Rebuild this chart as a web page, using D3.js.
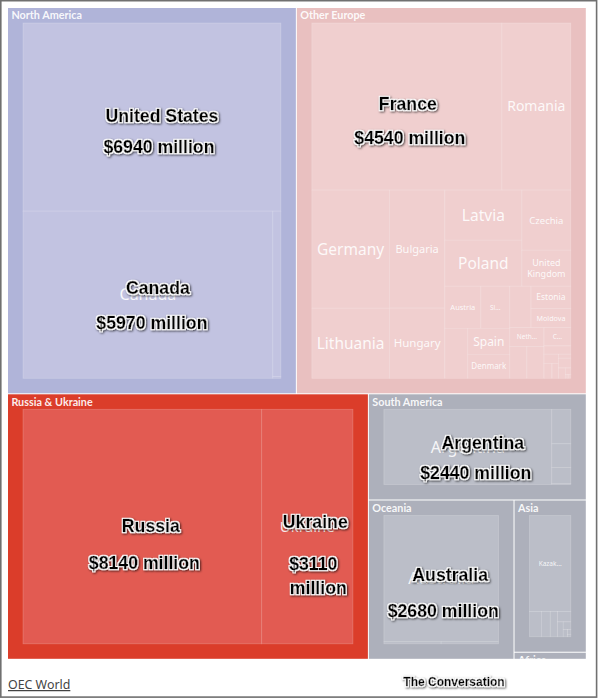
<!DOCTYPE html>
<html><head><meta charset="utf-8">
<style>html,body{margin:0;padding:0;background:#fff}svg{display:block}</style>
<script src="https://cdn.jsdelivr.net/npm/d3@7"></script></head>
<body><svg id="c" width="598" height="699"></svg>
<script>
// ---- data: export value in US$ million
const northAmericaNames = ["United States","Canada","Mexico","Bahamas"];
const northAmericaValues = [6940,5970,190,2];
const otherEuropeNames = ["France","Romania","Germany","Lithuania","Bulgaria","Hungary","Latvia","Poland","Czechia","United Kingdom","Austria","Slovakia","Serbia","Spain","Denmark","Belgium","Estonia","Moldova","Netherlands","Sweden","Finland","Croatia","Greece","Italy","Slovenia","Ireland","Norway","Portugal","Switzerland","Albania","Bosnia","Cyprus","Malta"];
const otherEuropeValues = [4540,1648,1308,776,936,556,551,507,420,252,216,174,164,156,144,126,126,109,92,78,78,70,32,19,17,14,7,17,10,5,1,1,1];
const russiaUkraineNames = ["Russia","Ukraine"];
const russiaUkraineValues = [8140,3110];
const southAmericaNames = ["Argentina","Brazil","Uruguay","Paraguay","Chile"];
const southAmericaValues = [2440,127,88,58,4];
const oceaniaNames = ["Australia","New Zealand","Fiji"];
const oceaniaValues = [2680,22,22];
const asiaNames = ["Kazakhstan","India","China","Pakistan","Turkey","Uzbekistan","Japan","Syria","Iran","Israel"];
const asiaValues = [1024,77,58,47,35,22,15,8,4,2];
const africaNames = ["Egypt"];
const africaValues = [60];

// displayed labels and their type size
const cellLabels = {"Canada":"Canada","Romania":"Romania","Germany":"Germany","Lithuania":"Lithuania","Bulgaria":"Bulgaria","Hungary":"Hungary","Latvia":"Latvia","Poland":"Poland","Czechia":"Czechia","United Kingdom":"United Kingdom","Austria":"Austria","Slovakia":"Sl...","Spain":"Spain","Denmark":"Denmark","Estonia":"Estonia","Moldova":"Moldova","Netherlands":"Neth...","Croatia":"C...","Ukraine":"Ukraine","Argentina":"Argentina","Australia":"Australia","Kazakhstan":"Kazak..."};
const cellFont = {"Canada":16,"Romania":14,"Germany":15.5,"Lithuania":15.5,"Bulgaria":11,"Hungary":11.5,"Latvia":15.5,"Poland":15.5,"Czechia":9.5,"United Kingdom":9,"Austria":7.5,"Slovakia":6.5,"Spain":12,"Denmark":8,"Estonia":8.5,"Moldova":7.2,"Netherlands":6.5,"Croatia":6.5,"Ukraine":15,"Argentina":16,"Australia":16,"Kazakhstan":6.5};

// which cells share a strip; "h" strips run across, "v" strips run down
const europeTiny = ["v","Norway","Portugal",["h","Switzerland",["v","Albania",["h","Bosnia","Cyprus","Malta"]]]];
const europeTail = ["v","Croatia","Greece",["h",["v","Italy",["h","Slovenia","Ireland"]],europeTiny]];
const europeRight = ["v",["h","Belgium",["v","Estonia","Moldova"]],["h",["v","Netherlands",["h","Sweden","Finland"]],europeTail]];
const europeLeft = ["v",["h","Austria","Slovakia"],["h","Serbia",["v","Spain","Denmark"]]];
const europeMid = ["v",["h",["v","Latvia","Poland"],["v","Czechia","United Kingdom"]],["h",europeLeft,europeRight]];
const nest = {
 "North America":["v","United States",["h","Canada",["v","Mexico","Bahamas"]]],
 "Other Europe":["v",["h","France","Romania"],["h",["v","Germany","Lithuania"],["v","Bulgaria","Hungary"],europeMid]],
 "Russia & Ukraine":["h","Russia","Ukraine"],
 "South America":["h","Argentina",["v","Brazil","Uruguay","Paraguay","Chile"]],
 "Oceania":["v","Australia",["h","New Zealand","Fiji"]],
 "Asia":["v","Kazakhstan",["h","India","China","Pakistan",["v","Turkey",["h","Uzbekistan",["v","Japan",["h","Syria",["v","Iran","Israel"]]]]]]],
 "Africa":["v","Egypt"]
};
const topNest = ["v",["h","North America","Other Europe"],
  ["h","Russia & Ukraine",["v","South America",["h","Oceania",["v","Asia","Africa"]]]]];
const groupSource = {"North America":[northAmericaNames,northAmericaValues],"Other Europe":[otherEuropeNames,otherEuropeValues],"Russia & Ukraine":[russiaUkraineNames,russiaUkraineValues],"South America":[southAmericaNames,southAmericaValues],"Oceania":[oceaniaNames,oceaniaValues],"Asia":[asiaNames,asiaValues],"Africa":[africaNames,africaValues]};
const groupFill = {"North America":"#b0b4d9","Other Europe":"#e9c0c0","Russia & Ukraine":"#db3d2a","South America":"#adb0bb","Oceania":"#adb0bb","Asia":"#adb0bb","Africa":"#adb0bb"};
const leafFill = {"North America":"#c2c3e1","Other Europe":"#f0cfcf","Russia & Ukraine":"#e25b52","South America":"#bbbec8","Oceania":"#bbbec8","Asia":"#bbbec8","Africa":"#bbbec8"};

// overlaid callouts
const calloutNames = ["United States","Canada","France","Russia","Ukraine","Argentina","Australia"];
const calloutValues = [6940,5970,4540,8140,3110,2440,2680];
const calloutWrap = ["Ukraine"];

// ---- build hierarchy
function buildInner(spec, lookup){
  if (typeof spec === "string") return {name:spec, value:lookup.get(spec), kind:"leaf"};
  return {dir:spec[0], kind:"strip", children:spec.slice(1).map(s=>buildInner(s,lookup))};
}
function buildTop(spec){
  if (typeof spec === "string"){
    const [n,v] = groupSource[spec];
    const lookup = new Map(n.map((k,i)=>[k,v[i]]));
    const g = buildInner(nest[spec], lookup);
    g.kind = "group"; g.name = spec;
    return g;
  }
  return {dir:spec[0], kind:"top", children:spec.slice(1).map(buildTop)};
}
const W = 598, H = 699, frame = {l:8, t:8, r:585.8, b:658.8};
const root = d3.hierarchy(buildTop(topNest)).sum(d=>d.children?0:d.value);
// d3.treemapDice lays out across x; d3.treemapSlice down y
const tileFn = (node,x0,y0,x1,y1)=> (node.data.dir==="h"?d3.treemapDice:d3.treemapSlice)(node,x0,y0,x1,y1);
d3.treemap().size([frame.r-frame.l, frame.b-frame.t]).tile(tileFn)
  .paddingInner(d=>d.data.kind==="top"?1:0)
  .paddingOuter(d=>d.data.kind==="group"?15:0)(root);

const svg = d3.select("#c");
svg.append("rect").attr("width",W).attr("height",H).attr("fill","#fff");
const defs = svg.append("defs");
// white halo grown from the glyphs, with a soft drop shadow behind it
const halo = defs.append("filter").attr("id","halo").attr("x","-15%").attr("y","-50%").attr("width","130%").attr("height","200%");
halo.append("feMorphology").attr("in","SourceAlpha").attr("operator","dilate").attr("radius",1.1).attr("result","fat");
halo.append("feGaussianBlur").attr("in","fat").attr("stdDeviation",0.35).attr("result","fatSoft");
halo.append("feFlood").attr("flood-color","#fff").attr("result","w");
halo.append("feComposite").attr("in","w").attr("in2","fatSoft").attr("operator","in").attr("result","white");
halo.append("feGaussianBlur").attr("in","fat").attr("stdDeviation",0.9).attr("result","blur");
halo.append("feOffset").attr("in","blur").attr("dx",0.8).attr("dy",1.2).attr("result","off");
halo.append("feFlood").attr("flood-color","#000").attr("flood-opacity",0.7).attr("result","k");
halo.append("feComposite").attr("in","k").attr("in2","off").attr("operator","in").attr("result","shadow");
const mg = halo.append("feMerge");
["shadow","white","SourceGraphic"].forEach(n=>mg.append("feMergeNode").attr("in",n));

const plot = svg.append("g").attr("transform",`translate(${frame.l},${frame.t})`);
const groups = root.descendants().filter(d=>d.data.kind==="group");
groups.forEach((g,i)=>{
  const gg = plot.append("g");
  gg.append("clipPath").attr("id","cl"+i).append("rect").attr("x",g.x0).attr("y",g.y0).attr("width",g.x1-g.x0).attr("height",g.y1-g.y0);
  gg.append("rect").attr("x",g.x0).attr("y",g.y0).attr("width",g.x1-g.x0).attr("height",g.y1-g.y0).attr("fill",groupFill[g.data.name]);
  const leaves = g.leaves().filter(d=>d.x1-d.x0>0.01 && d.y1-d.y0>0.01);
  gg.selectAll("rect.leaf").data(leaves).join("rect").attr("class","leaf")
    .attr("x",d=>d.x0).attr("y",d=>d.y0).attr("width",d=>d.x1-d.x0).attr("height",d=>d.y1-d.y0)
    .attr("fill",leafFill[g.data.name]).attr("stroke","#fff").attr("stroke-opacity",0.22).attr("stroke-width",0.8);
  gg.selectAll("text.cell").data(leaves.filter(d=>cellLabels[d.data.name])).join("text").attr("class","cell")
    .attr("transform",d=>`translate(${(d.x0+d.x1)/2},${(d.y0+d.y1)/2})`)
    .attr("text-anchor","middle").attr("fill","#fff").attr("fill-opacity",0.88)
    .attr("font-family","'Noto Sans',sans-serif").attr("font-size",d=>cellFont[d.data.name])
    .each(function(d){
      const words = d.data.name==="United Kingdom"?["United","Kingdom"]:[cellLabels[d.data.name]];
      const lh = cellFont[d.data.name]*1.15;
      d3.select(this).selectAll("tspan").data(words).join("tspan").attr("x",0)
        .attr("y",(w,k)=>(k-(words.length-1)/2)*lh+cellFont[d.data.name]*0.35).text(w=>w);
    });
  gg.append("text").attr("x",g.x0+3.4).attr("y",g.y0+11.3).attr("clip-path",`url(#cl${i})`)
    .attr("fill","#fff").attr("fill-opacity",0.92).attr("font-family","Lato,sans-serif").attr("font-weight",700).attr("font-size",10.8)
    .text(g.data.name);
});

// callouts: nudged from the centre of their cell
const nudge = {"United States":[10,-1,7,31],"Canada":[10,-7,4,35],"France":[1,-3,3,34],"Russia":[8.5,-1,2,37],"Ukraine":[8,-5,6,37],"Argentina":[15,-4,8,30],"Australia":[9,-4,2,36.5]};
const haloText = (sel,x,y,t,size)=> sel.append("text").attr("x",x).attr("y",y).attr("text-anchor","middle")
  .attr("font-family","'Liberation Sans',Arial,sans-serif").attr("font-weight",700).attr("font-size",size)
  .attr("fill","#000").attr("stroke","#000").attr("stroke-width",0.35)
  .attr("filter","url(#halo)").text(t);
const allLeaves = root.leaves();
const over = svg.append("g").attr("transform",`translate(${frame.l},${frame.t})`);
calloutNames.forEach((n,i)=>{
  const d = allLeaves.find(l=>l.data.name===n);
  const cx=(d.x0+d.x1)/2-frame.l+frame.l, cy=(d.y0+d.y1)/2, [a,b,c,e]=nudge[n], fs=17.7, base=fs*0.36;
  haloText(over,cx+a,cy+b+base,n,fs);
  if (calloutWrap.includes(n)){
    haloText(over,cx+c,cy+e+base,`$${calloutValues[i]}`,fs);
    haloText(over,cx+c+5,cy+e+24+base,"million",fs);
  } else haloText(over,cx+c,cy+b+e+base,`$${calloutValues[i]} million`,fs);
});

// footer and frame
svg.append("text").attr("x",8).attr("y",689).attr("fill","#444").attr("font-family","'Noto Sans',sans-serif").attr("font-size",12.4).attr("text-decoration","underline").text("OEC World");
haloText(svg,454,686,"The Conversation",12);
svg.append("rect").attr("x",0.8).attr("y",0.7).attr("width",W-2.2).attr("height",H-2.6).attr("fill","none").attr("stroke","#707070").attr("stroke-width",1.6);
</script></body></html>
